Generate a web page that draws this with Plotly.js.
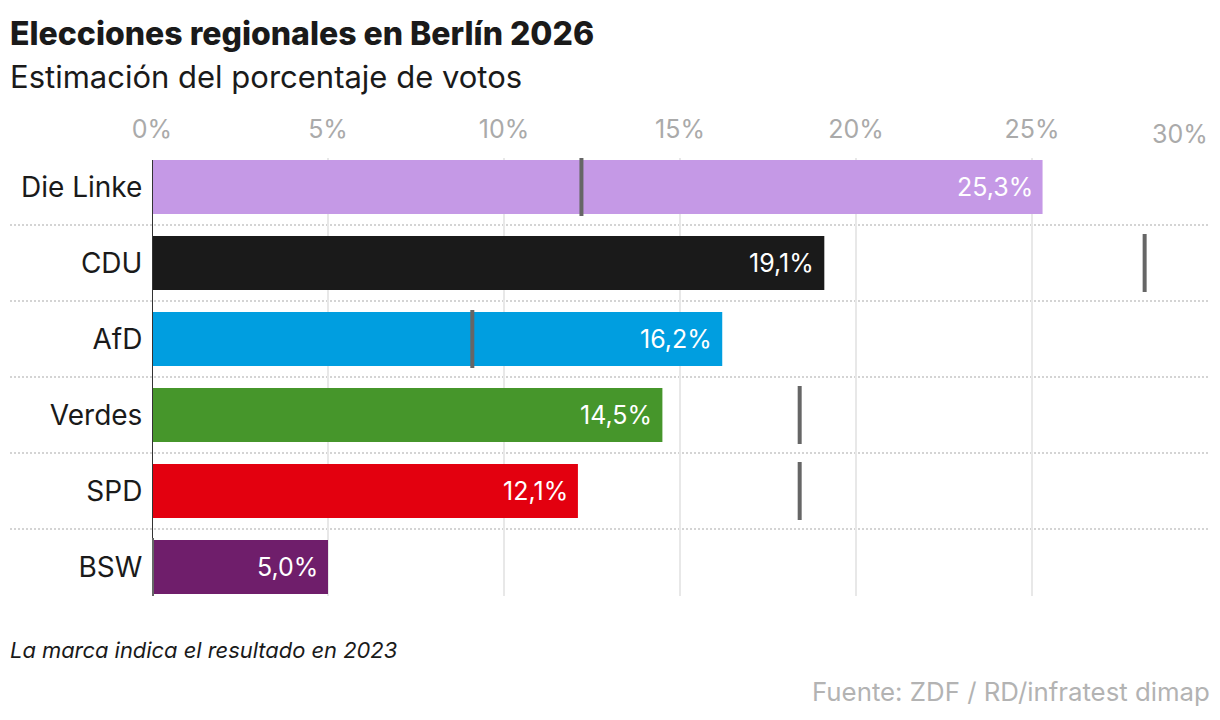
<!DOCTYPE html>
<html><head><meta charset="utf-8"><script src="https://cdn.plot.ly/plotly-3.0.1.min.js"></script>
<style>html,body{margin:0;padding:0;background:#fff}</style></head><body><div id="c" style="width:1220px;height:720px"></div>
<script>
const parties=["Die Linke","CDU","AfD","Verdes","SPD","BSW"];
const votes2026=[25.3,19.1,16.2,14.5,12.1,5.0];
const votes2023=[12.2,28.2,9.1,18.4,18.4,0];
const labels=["25,3%","19,1%","16,2%","14,5%","12,1%","5,0%"];
const colors=["#c599e6","#1a1a1a","#009ee0","#46962b","#e3000f","#6f1e6b"];
const tickVals=[0,5,10,15,20,25,30];
const tickText=["0%","5%","10%","15%","20%","25%",""];
const lastTick="30%";
const F="Inter, 'Liberation Sans', sans-serif";
const T=158,B=596,L=152,R=1208;
const shapes=[];
parties.forEach((p,i)=>{
 if(i<parties.length-1) shapes.push({type:"line",xref:"paper",yref:"y",x0:(10-L)/(R-L),x1:1,y0:i+0.5,y1:i+0.5,line:{color:"#d4d4d4",width:2,dash:"2px,2px"},layer:"below"});
});
shapes.push({type:"line",xref:"x",yref:"y",x0:0,x1:0,y0:-0.355,y1:5.355,line:{color:"#333",width:2},layer:"above"});
parties.forEach((p,i)=>{
 shapes.push({type:"line",xref:"x",yref:"y",x0:votes2023[i],x1:votes2023[i],y0:i-0.3816,y1:i+0.3816,line:{color:"#666",width:4},layer:"above"});
});
const px=(a)=>({xref:"paper",yref:"paper",x:(a.x-L)/(R-L),y:1-(a.y-T)/(B-T),xanchor:a.anchor||"left",yanchor:"middle",showarrow:false,text:a.text,font:{family:F,size:a.size,color:a.color,weight:a.weight||400}});
const ann=[
 px({text:"Elecciones regionales en Berlín 2026",x:8,y:33,size:32,color:"#1a1a1a",weight:800}),
 px({text:"Estimación del porcentaje de votos",x:8,y:77,size:31,color:"#1a1a1a"}),
 px({text:"<i>La marca indica el resultado en 2023</i>",x:8,y:650,size:21.9,color:"#1a1a1a"}),
 px({text:"Fuente: ZDF / RD/infratest dimap",x:1212,y:691,size:25.8,color:"#b3b3b3",anchor:"right"})
];
ann.push({text:lastTick,xref:"x",yref:"paper",x:30,y:1-(134-T)/(B-T),xanchor:"right",yanchor:"middle",showarrow:false,xshift:2,font:{family:F,size:25,color:"#aaa"}});
parties.forEach((p,i)=>ann.push({text:labels[i],xref:"x",yref:"y",x:votes2026[i],y:p,xanchor:"right",yanchor:"middle",xshift:-8,showarrow:false,font:{family:F,size:25,color:"#fff"}}));
Plotly.newPlot("c",[{type:"bar",orientation:"h",y:parties,x:votes2026,marker:{color:colors},width:54/76,hoverinfo:"skip"}],{
 width:1220,height:720,margin:{l:L,r:1220-R,t:T,b:720-B},paper_bgcolor:"#fff",plot_bgcolor:"#fff",showlegend:false,
 xaxis:{side:"top",range:[0,30],tickvals:tickVals,ticktext:tickText,showgrid:true,gridcolor:"#e8e8e8",gridwidth:2,zeroline:false,tickfont:{family:F,size:25,color:"#aaa"},ticks:"outside",ticklen:9,tickcolor:"rgba(0,0,0,0)",automargin:false},
 yaxis:{categoryorder:"array",categoryarray:parties,autorange:false,range:[5.3816,-0.3816],showgrid:false,zeroline:false,tickfont:{family:F,size:28,color:"#1a1a1a"},ticks:"outside",ticklen:3,tickcolor:"rgba(0,0,0,0)",automargin:false},
 shapes:shapes,annotations:ann},{displayModeBar:false,staticPlot:true});
</script></body></html>
